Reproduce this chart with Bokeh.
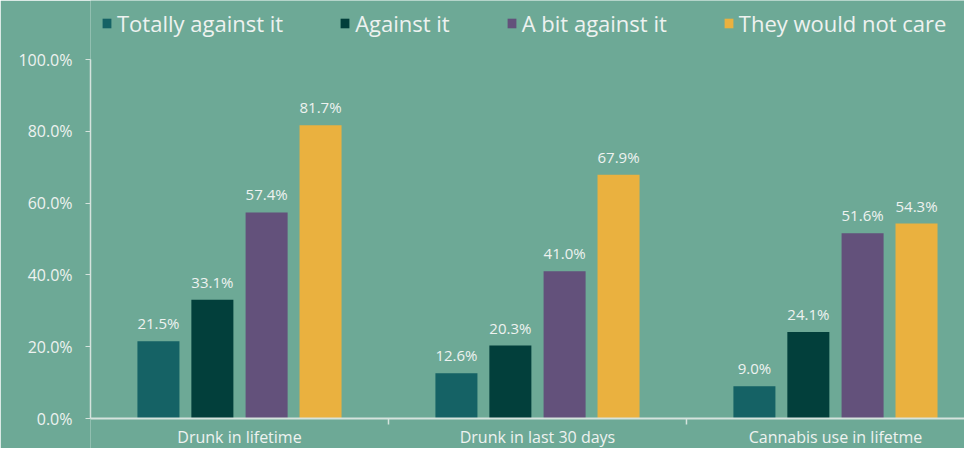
from bokeh.plotting import figure
from bokeh.models import ColumnDataSource, FixedTicker, Range1d, Legend, LegendItem, LabelSet, Span
from bokeh.core.properties import value
from bokeh.transform import dodge
from bokeh.embed import file_html
from bokeh.resources import INLINE

categories = ["Drunk in lifetime", "Drunk in last 30 days", "Cannabis use in lifetme"]
series = ["Totally against it", "Against it", "A bit against it", "They would not care"]
totally_against = [21.5, 12.6, 9.0]
against = [33.1, 20.3, 24.1]
bit_against = [57.4, 41.0, 51.6]
would_not_care = [81.7, 67.9, 54.3]
y_ticks = [0, 20, 40, 60, 80, 100]

colors = ["#156265", "#023F3B", "#63517B", "#EAB13F"]
BG = "#6DA996"
TXT = "#EEF2F0"
AXIS = "#D5E3DD"
FONT = "Open Sans"

values = [totally_against, against, bit_against, would_not_care]
xs = [i + 0.5 for i in range(len(categories))]
bounds = [float(i) for i in range(1, len(categories))]

# frame fills the whole figure height; 0% sits 30px above bottom, 100% 59px below top
PX = 3.59
p = figure(width=964, height=448, output_backend="svg", toolbar_location=None,
           x_range=Range1d(0, 2.933), y_range=Range1d(-30 / PX, 418 / PX),
           x_axis_location=None,
           min_border_left=90, min_border_right=0, min_border_top=0, min_border_bottom=0)
p.background_fill_color = BG
p.border_fill_color = BG
p.outline_line_color = None
p.grid.visible = False

offsets = [-0.272, -0.091, 0.091, 0.272]
items = []
for name, vals, col, off in zip(series, values, colors, offsets):
    src = ColumnDataSource(dict(x=xs, y=vals, lab=[f"{v:.1f}%" for v in vals]))
    r = p.vbar(x=dodge("x", off), top="y", width=0.141, source=src,
               fill_color=col, line_color=None)
    items.append(LegendItem(label=name, renderers=[r]))
    p.add_layout(LabelSet(x=dodge("x", off), y="y", text="lab", source=src,
                          y_offset=8, text_align="center", text_baseline="bottom",
                          text_font=value(FONT), text_font_size="15px", text_color=TXT))

# x axis: line at 0, boundary ticks, category labels
p.add_layout(Span(location=0, dimension="width", line_color=AXIS, line_width=2))
tick_src = ColumnDataSource(dict(x=bounds, y0=[0] * len(bounds), y1=[-6 / PX] * len(bounds)))
p.segment(x0="x", y0="y0", x1="x", y1="y1", source=tick_src, line_color=AXIS, line_width=1.5)
cat_src = ColumnDataSource(dict(x=xs, y=[0] * len(xs), lab=categories))
p.add_layout(LabelSet(x="x", y="y", text="lab", source=cat_src, y_offset=-29,
                      text_align="center", text_baseline="bottom",
                      text_font=value(FONT), text_font_size="16px", text_color=TXT))

legend = Legend(items=items, orientation="horizontal", location=(11, 410),
                background_fill_alpha=0, border_line_color=None,
                label_text_font=FONT, label_text_font_size="22px", label_text_color=TXT,
                glyph_width=11, glyph_height=12, label_standoff=5, spacing=56,
                padding=4, margin=0)
p.add_layout(legend, "center")

# y axis
p.yaxis.bounds = (0, 100)
p.yaxis.ticker = FixedTicker(ticks=y_ticks, minor_ticks=[])
p.yaxis.major_label_overrides = {t: f"{t:.1f}%" for t in y_ticks}
p.yaxis.major_tick_out = 5
p.yaxis.major_tick_in = 0
p.yaxis.major_tick_line_color = AXIS
p.yaxis.axis_line_color = AXIS
p.yaxis.axis_line_width = 1.5
p.yaxis.major_label_text_font = FONT
p.yaxis.major_label_text_font_size = "16px"
p.yaxis.major_label_text_color = TXT
p.yaxis.major_label_standoff = 13

open("out.html", "w").write(file_html(p, INLINE))
